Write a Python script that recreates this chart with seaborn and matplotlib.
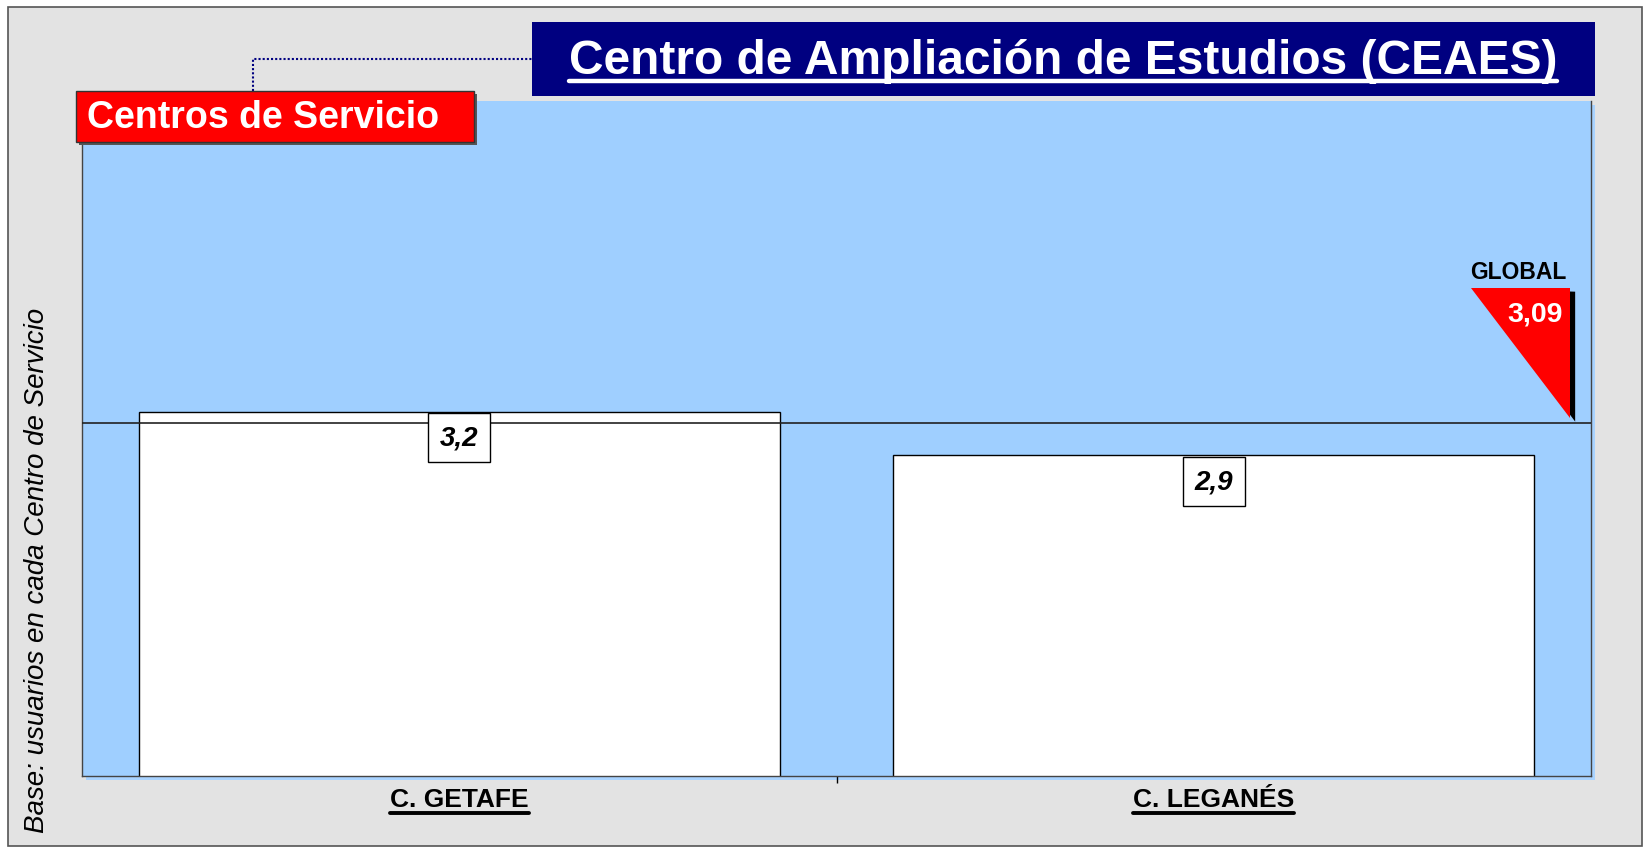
import matplotlib
matplotlib.use("Agg")
import matplotlib.pyplot as plt
import seaborn as sns
import pandas as pd
from matplotlib.patches import Rectangle, Polygon
from matplotlib.lines import Line2D

# ---- data ----
centros = ["C. GETAFE", "C. LEGANÉS"]
valores = [3.16, 2.9]
etiquetas = ["3,2", "2,9"]
global_valor = 3.09
global_etiqueta = "3,09"
titulo = "Centro de Ampliación de Estudios (CEAES)"
subtitulo = "Centros de Servicio"
ylabel = "Base: usuarios en cada Centro de Servicio"

sns.set_theme(style="white")
plt.rcParams['font.family'] = ['Liberation Sans', 'DejaVu Sans']

W, H = 1650, 854
fig = plt.figure(figsize=(W / 100, H / 100), dpi=100)
fig.patch.set_facecolor("white")

def fx(px):
    return px / W

def fy(py):
    return 1 - py / H

# outer frame
fig.patches.append(Rectangle((fx(8), fy(847)), fx(1642) - fx(8), fy(8) - fy(847),
                             transform=fig.transFigure, facecolor="#E3E3E3",
                             edgecolor="#555555", lw=1.2, zorder=-3))
# plot area shadow
fig.patches.append(Rectangle((fx(86), fy(781)), fx(1595) - fx(86), fy(106) - fy(781),
                             transform=fig.transFigure, facecolor="#A9D3FF",
                             edgecolor="none", zorder=-2))

ax = fig.add_axes([fx(82), fy(777), fx(1591) - fx(82), fy(102) - fy(777)])
ax.set_zorder(1)
ax.set_facecolor("#9FCFFF")

df = pd.DataFrame({"centro": centros, "valor": valores})
sns.barplot(data=df, x="centro", y="valor", color="white", edgecolor="black",
            linewidth=1.0, width=0.85, saturation=1, ax=ax, zorder=2)
ax.set_ylim(1, 5)
ax.set_xlim(-0.5, 1.5)
ax.set_xlabel("")
ax.set_ylabel("")
ax.set_yticks([])
ax.set_xticks([0.5])
ax.set_xticklabels([""])
ax.tick_params(axis="x", direction="out", length=5, width=1, color="black", bottom=True)
for s in ["left", "right", "bottom"]:
    ax.spines[s].set_color("#444444")
    ax.spines[s].set_linewidth(1.0)
ax.spines["top"].set_visible(False)

# global line
ax.axhline(global_valor, color="#222222", lw=1.2, zorder=3)

# value labels (box top aligned with bar top)
for i, (v, lab) in enumerate(zip(valores, etiquetas)):
    ax.annotate(lab, xy=(i, v), xytext=(0, -9.5), textcoords="offset points",
                ha="center", va="top", fontsize=20, fontweight="bold",
                fontstyle="italic", color="black", zorder=5,
                bbox=dict(boxstyle="square,pad=0.42", facecolor="white",
                          edgecolor="black", lw=1.0))

# GLOBAL marker
tip_x, top_off = 1.472, 0.80
ax.add_patch(Polygon([(1.347, global_valor + top_off), (tip_x + 0.007, global_valor + top_off - 0.02),
                      (tip_x + 0.007, global_valor + 0.01)], closed=True,
                     facecolor="black", edgecolor="none", zorder=4))
ax.add_patch(Polygon([(1.341, global_valor + top_off), (tip_x, global_valor + top_off),
                      (tip_x, global_valor + 0.03)], closed=True,
                     facecolor="#FF0000", edgecolor="none", zorder=5))
ax.text(1.403, global_valor + top_off + 0.03, "GLOBAL", ha="center", va="bottom",
        fontsize=16.5, fontweight="bold", color="black", zorder=6)
ax.text(1.426, global_valor + top_off - 0.15, global_etiqueta, ha="center", va="center",
        fontsize=20.5, fontweight="bold", color="white", zorder=6)

# title box
fig.patches.append(Rectangle((fx(532), fy(97)), fx(1595) - fx(532), fy(23) - fy(97),
                             transform=fig.transFigure, facecolor="#000080",
                             edgecolor="none", zorder=3))
t_title = fig.text(fx(1063), fy(62), titulo, ha="center", va="center", fontsize=34.5,
                   fontweight="bold", color="white", zorder=4)

# dotted connector
fig.lines.append(Line2D([fx(253), fx(253), fx(532)], [fy(92), fy(60), fy(60)],
                        transform=fig.transFigure, color="#000080", lw=1.5,
                        linestyle=(0, (1, 1)), zorder=2))

# red box
fig.patches.append(Rectangle((fx(79), fy(146)), fx(477) - fx(79), fy(95) - fy(146),
                             transform=fig.transFigure, facecolor="#555555",
                             edgecolor="none", zorder=3))
fig.patches.append(Rectangle((fx(76), fy(143)), fx(474) - fx(76), fy(92) - fy(143),
                             transform=fig.transFigure, facecolor="#FF0000",
                             edgecolor="#333333", lw=1, zorder=3.5))
fig.text(fx(87), fy(118), subtitulo, ha="left", va="center", fontsize=27,
         fontweight="bold", color="white", zorder=4)

# y label
fig.text(fx(37), fy(570), ylabel, ha="center", va="center", rotation=90,
         fontsize=20, fontstyle="italic", color="black", zorder=4)

# x labels
xlabs = []
for i, c in enumerate(centros):
    t = ax.text(i, -(800 - 777) / (777 - 102), c, transform=ax.get_xaxis_transform(),
                ha="center", va="center", fontsize=19, fontweight="bold", color="black",
                clip_on=False)
    xlabs.append(t)

# underlines
fig.canvas.draw()
r = fig.canvas.get_renderer()
def underline(txt, lw, off):
    bb = txt.get_window_extent(renderer=r)
    inv = fig.transFigure.inverted()
    (x0, y0) = inv.transform((bb.x0, bb.y0 + off))
    (x1, _) = inv.transform((bb.x1, bb.y0 + off))
    fig.lines.append(Line2D([x0, x1], [y0, y0], transform=fig.transFigure,
                            color=txt.get_color(), lw=lw, zorder=5))
underline(t_title, 3.2, 3)
for t in xlabs:
    underline(t, 2.8, -2)

fig.savefig("out.png", dpi=100, facecolor="white")
